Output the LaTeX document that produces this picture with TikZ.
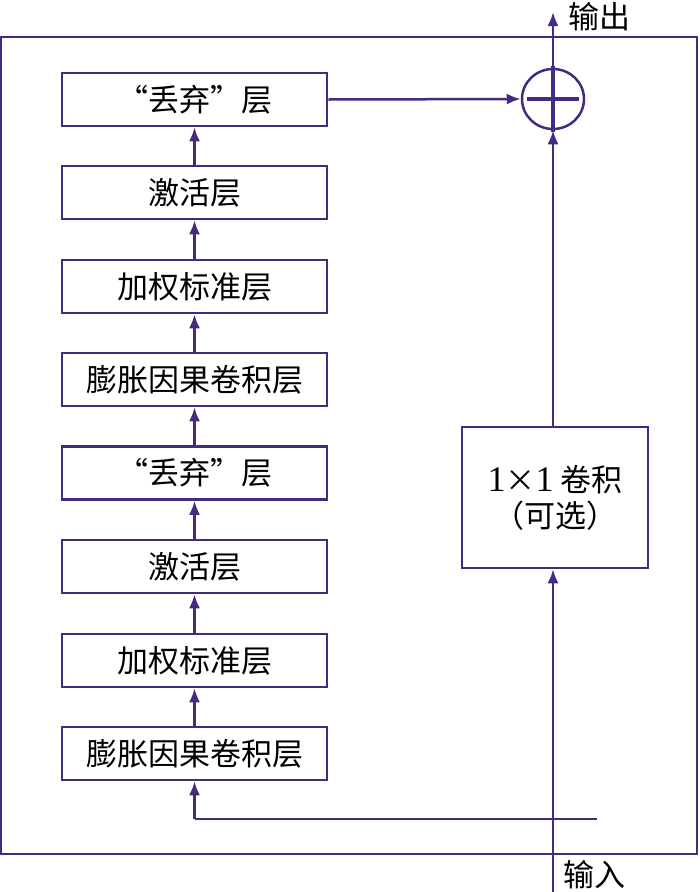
\documentclass[tikz,border=0pt]{standalone}
\usepackage{fontspec}
\setmainfont{Liberation Serif}
\newfontfamily\cjk{Noto Sans CJK SC}
\usetikzlibrary{arrows.meta,shapes.geometric}
\definecolor{lc}{RGB}{68,42,128}
\begin{document}
\begin{tikzpicture}[x=1pt,y=-1pt,
  every node/.style={font=\fontsize{31}{36}\selectfont\cjk},
  box/.style={draw=lc,line width=2.5pt,minimum width=265pt,minimum height=53pt,inner sep=0pt},
  rbox/.style={draw=lc,line width=2.5pt,minimum width=186pt,minimum height=141pt,inner sep=0pt,align=center},
  conn/.style={draw=lc,line width=2.5pt,-{Latex[length=14pt,width=11pt]}},
  ln/.style={draw=lc,line width=2.5pt}]
\useasboundingbox (0,0) rectangle (700,892);
\draw[ln] (1,37) rectangle (697,854);
\node[box] (b1) at (194.5,99.5) {“丢弃”层};
\node[box] (b2) at (194.5,192.5) {激活层};
\node[box] (b3) at (194.5,286.5) {加权标准层};
\node[box] (b4) at (194.5,379.5) {膨胀因果卷积层};
\node[box] (b5) at (194.5,473) {“丢弃”层};
\node[box] (b6) at (194.5,566.5) {激活层};
\node[box] (b7) at (194.5,660.5) {加权标准层};
\node[box] (b8) at (194.5,753.5) {膨胀因果卷积层};
\node[rbox] (r) at (555,497.5) {{\rmfamily\fontsize{36}{40}\selectfont 1}{\fontsize{30}{36}\selectfont ×}{\rmfamily\fontsize{36}{40}\selectfont 1} 卷积\\（可选）};
\node[draw=lc,line width=2.5pt,ellipse,minimum width=62pt,minimum height=60pt,inner sep=0pt] (s) at (553,99) {};
\draw[lc,line width=4pt] ([xshift=6pt]s.west) -- ([xshift=-6pt]s.east);
\draw[lc,line width=4.5pt] ([yshift=2pt]s.north) -- ([yshift=-2pt]s.south);
\coordinate (in) at (553,892);
\coordinate (out) at (553,12);
\coordinate (e) at (597,819);
\coordinate (c) at (194.5,819);
\node[anchor=west,inner sep=0pt] (tout) at (568,17) {输出};
\node[anchor=west,inner sep=0pt] (tin) at (563,875) {输入};
\draw[conn] (in) -- (in |- r.south);
\draw[conn] (s.south |- r.north) -- (s.south);
\draw[conn] (s.north) -- (out);
\draw[conn] (b1.east) -- (s.west);
\draw[ln] (e) -- (c);
\draw[conn] (c) -- (b8.south);
\draw[conn] (b8.north) -- (b7.south);
\draw[conn] (b7.north) -- (b6.south);
\draw[conn] (b6.north) -- (b5.south);
\draw[conn] (b5.north) -- (b4.south);
\draw[conn] (b4.north) -- (b3.south);
\draw[conn] (b3.north) -- (b2.south);
\draw[conn] (b2.north) -- (b1.south);
\end{tikzpicture}
\end{document}
